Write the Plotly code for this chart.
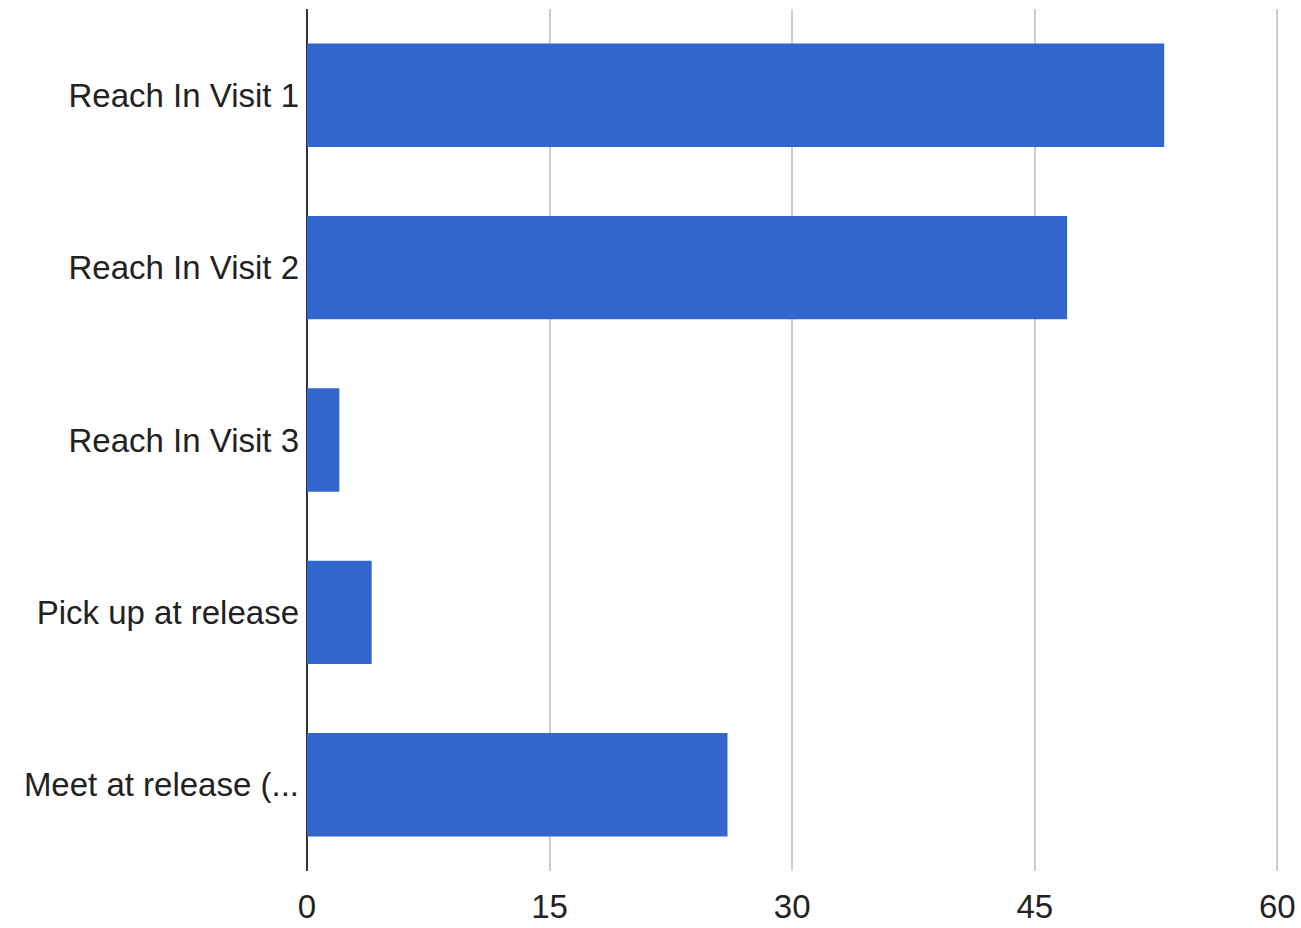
import plotly.graph_objects as go

categories = ["Reach In Visit 1", "Reach In Visit 2", "Reach In Visit 3",
              "Pick up at release", "Meet at release (..."]
values = [53, 47, 2, 4, 26]
x_ticks = [0, 15, 30, 45, 60]

fig = go.Figure(go.Bar(
    y=categories, x=values, orientation="h",
    marker=dict(color="#3366cc", line=dict(width=0)),
    width=0.6,
))

fig.update_layout(
    width=1301, height=928,
    margin=dict(l=307, r=22, t=9, b=57, autoexpand=False),
    paper_bgcolor="white", plot_bgcolor="white",
    showlegend=False,
    font=dict(family="Liberation Sans, Arial, sans-serif", size=33, color="#222222"),
    bargap=0.4,
)
fig.update_xaxes(
    range=[0, 60.1], tickvals=x_ticks, ticktext=[str(v) for v in x_ticks],
    showgrid=True, gridcolor="#cccccc", gridwidth=2,
    zeroline=True, zerolinecolor="#333333", zerolinewidth=2,
    ticks="", ticklabelstandoff=13, ticklabeloverflow="allow", fixedrange=True,
)
fig.update_yaxes(
    categoryorder="array", categoryarray=categories, autorange="reversed",
    showgrid=False, zeroline=False, showline=False,
    ticks="", ticklabelstandoff=7,
)
fig.write_html(
    "out.html",
    config={"displayModeBar": False},
    post_script="document.body.style.margin='0';document.body.style.overflow='hidden';",
)
